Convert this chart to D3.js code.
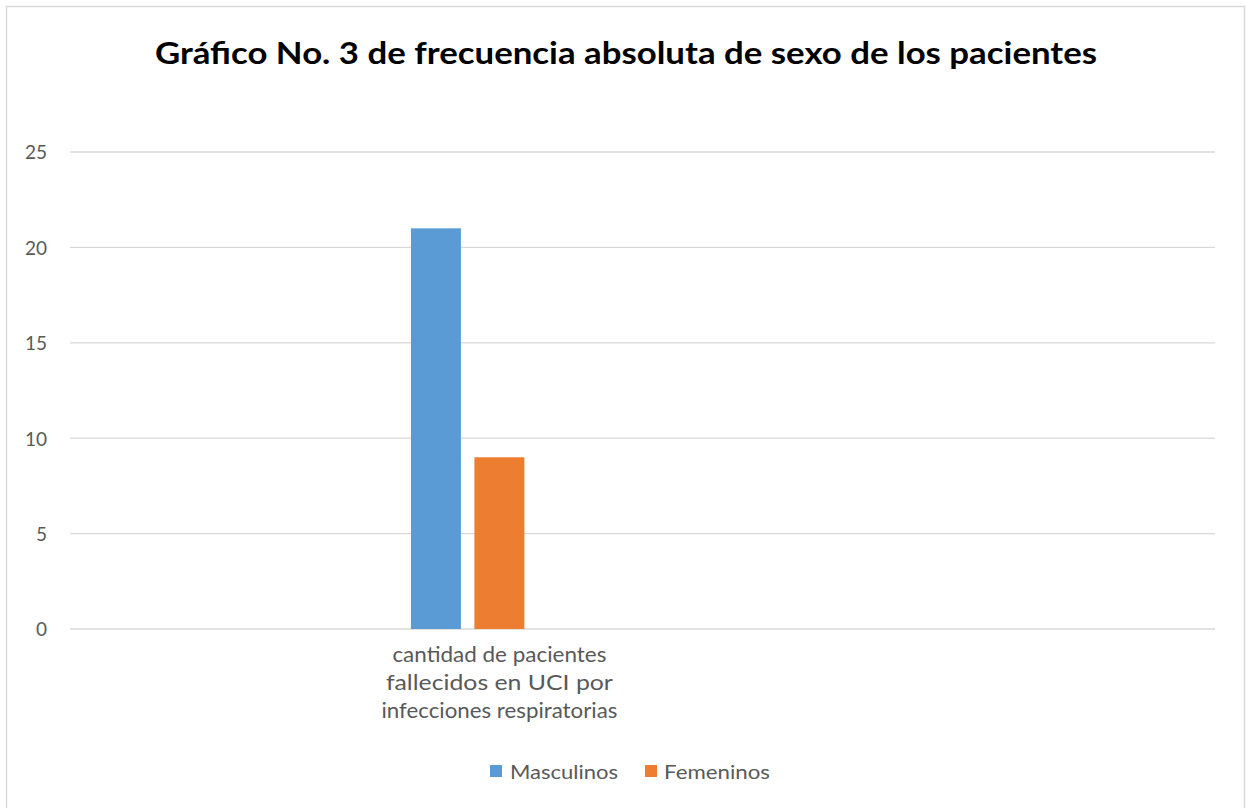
<!DOCTYPE html>
<html>
<head>
<meta charset="utf-8">
<script src="https://cdn.jsdelivr.net/npm/d3@7/dist/d3.min.js"></script>
<style>
  html, body { margin: 0; padding: 0; background: #fff; }
  svg { display: block; }
  text { font-family: Lato, "Open Sans", "Liberation Sans", sans-serif; }
</style>
</head>
<body>
<svg id="chart" width="1246" height="808"></svg>
<script>
// Chart data
const title = "Gráfico No. 3 de frecuencia absoluta de sexo de los pacientes";
const categoryLabels = ["", "cantidad de pacientes fallecidos en UCI por infecciones respiratorias", "", ""];
const categoryLines = [[], ["cantidad de pacientes", "fallecidos en UCI por", "infecciones respiratorias"], [], []];
const seriesNames = ["Masculinos", "Femeninos", ""];
const masculinos = [null, 21, null, null];
const femeninos = [null, 9, null, null];
const sinNombre = [null, null, null, null];
const seriesColors = ["#5b9bd5", "#ed7d31", "#a5a5a5"];
const yTicks = [0, 5, 10, 15, 20, 25];

const seriesValues = [masculinos, femeninos, sinNombre];

const svg = d3.select("#chart");

// chart frame
svg.append("rect")
  .attr("x", 6.5).attr("y", 6.5)
  .attr("width", 1238).attr("height", 820)
  .attr("fill", "#fff")
  .attr("stroke", "#d9d9d9").attr("stroke-width", 1.5);

const plot = { left: 70, right: 1215, top: 152, bottom: 629 };

const x = d3.scaleBand()
  .domain(d3.range(categoryLabels.length))
  .range([plot.left, plot.right])
  .paddingInner(0).paddingOuter(0);

// clustered columns: gap width 219%, overlap -27%
const catW = x.bandwidth();
const barW = catW / (seriesNames.length * 1.27 - 0.27 + 2.19);
const halfGap = barW * 2.19 / 2;
const xs = d3.scaleBand()
  .domain(d3.range(seriesNames.length))
  .range([halfGap, catW - halfGap])
  .paddingInner(0.27 / 1.27).paddingOuter(0);

const y = d3.scaleLinear().domain([0, 25]).range([plot.bottom, plot.top]);

// gridlines
svg.append("g")
  .selectAll("line")
  .data(yTicks)
  .join("line")
  .attr("x1", plot.left).attr("x2", plot.right)
  .attr("y1", d => y(d)).attr("y2", d => y(d))
  .attr("stroke", "#d9d9d9").attr("stroke-width", 1.3);

// y axis labels
const yAxis = d3.axisLeft(y).tickValues(yTicks).tickSize(0).tickPadding(0);
const yg = svg.append("g")
  .attr("transform", `translate(${47},0)`)
  .call(yAxis);
yg.select(".domain").remove();
yg.selectAll("text")
  .attr("fill", "#595959")
  .attr("font-size", 19)
  .attr("dy", "0.36em")
  .style("font-family", "Lato, 'Open Sans', sans-serif");

// bars
const flat = [];
seriesValues.forEach((vals, si) => {
  vals.forEach((v, ci) => {
    if (v !== null) flat.push({ si, ci, v });
  });
});
svg.append("g")
  .selectAll("rect")
  .data(flat)
  .join("rect")
  .attr("x", d => x(d.ci) + xs(d.si))
  .attr("width", xs.bandwidth())
  .attr("y", d => y(d.v))
  .attr("height", d => y(0) - y(d.v))
  .attr("fill", d => seriesColors[d.si]);

// category labels
const catWidths = [214, 227, 236];
const catG = svg.append("g");
categoryLines.forEach((lines, ci) => {
  lines.forEach((ln, li) => {
    catG.append("text")
      .attr("x", x(ci) + catW / 2)
      .attr("y", 662 + li * 28)
      .attr("text-anchor", "middle")
      .attr("fill", "#595959")
      .attr("font-size", 21)
      .attr("textLength", catWidths[li])
      .attr("lengthAdjust", "spacingAndGlyphs")
      .text(ln);
  });
});

// title
svg.append("text")
  .attr("x", 626).attr("y", 64)
  .attr("text-anchor", "middle")
  .attr("font-size", 31)
  .attr("font-weight", "bold")
  .attr("fill", "#000")
  .attr("textLength", 942)
  .attr("lengthAdjust", "spacingAndGlyphs")
  .text(title);

// legend
const legendItems = seriesNames
  .map((name, i) => ({ name, color: seriesColors[i] }))
  .filter(d => d.name !== "");
const legendPos = [{ sx: 490, tx: 510, tw: 108 }, { sx: 645, tx: 664, tw: 106 }];
const lg = svg.append("g");
legendItems.forEach((d, i) => {
  const p = legendPos[i];
  lg.append("rect")
    .attr("x", p.sx).attr("y", 765)
    .attr("width", 12).attr("height", 12)
    .attr("fill", d.color);
  lg.append("text")
    .attr("x", p.tx).attr("y", 779)
    .attr("fill", "#595959")
    .attr("font-size", 20)
    .attr("textLength", p.tw)
    .attr("lengthAdjust", "spacingAndGlyphs")
    .text(d.name);
});
</script>
</body>
</html>
